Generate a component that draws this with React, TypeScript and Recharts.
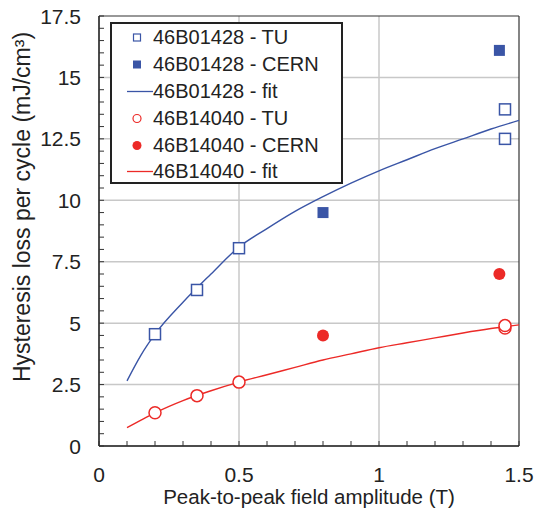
import { ComposedChart, XAxis, YAxis, CartesianGrid, Scatter, Line, ReferenceLine, Label } from "recharts";

const FONT = '"Liberation Sans", Arial, Helvetica, sans-serif';
const BLUE = "#3a55a6";
const RED = "#ec2a27";

// measured points
const tuFields = [0.2, 0.35, 0.5, 1.45, 1.45];
const blueTu = [4.55, 6.35, 8.05, 13.7, 12.5];
const redTu = [1.35, 2.05, 2.6, 4.8, 4.9];

const cernFields = [0.8, 1.43];
const blueCern = [9.5, 16.1];
const redCern = [4.5, 7.0];

// fit curves
const fitFields = [0.1, 0.15, 0.2, 0.3, 0.4, 0.5, 0.6, 0.7, 0.8, 0.9, 1.0, 1.1, 1.2, 1.3, 1.4, 1.5];
const blueFit = [2.65, 3.7, 4.55, 5.85, 7.0, 8.1, 8.85, 9.55, 10.15, 10.7, 11.2, 11.65, 12.1, 12.5, 12.9, 13.25];
const redFit = [0.75, 1.05, 1.35, 1.85, 2.25, 2.6, 2.9, 3.2, 3.5, 3.75, 4.0, 4.2, 4.4, 4.6, 4.78, 4.93];

const xTicks = [0, 0.1, 0.2, 0.3, 0.4, 0.5, 0.6, 0.7, 0.8, 0.9, 1, 1.1, 1.2, 1.3, 1.4, 1.5];
const xLabels = [0, 0.5, 1, 1.5];
const xGrid = [0.5, 1];
const yTicks = [0, 0.5, 1, 1.5, 2, 2.5, 3, 3.5, 4, 4.5, 5, 5.5, 6, 6.5, 7, 7.5, 8, 8.5, 9, 9.5, 10, 10.5, 11, 11.5, 12, 12.5, 13, 13.5, 14, 14.5, 15, 15.5, 16, 16.5, 17, 17.5];
const yLabels = [0, 2.5, 5, 7.5, 10, 12.5, 15, 17.5];
const yGrid = [2.5, 5, 7.5, 10, 12.5, 15];

const zip = (xs: number[], ys: number[]) => xs.map((x, i) => ({ x, y: ys[i] }));

const legendItems = [
  { name: "46B01428 - TU", color: BLUE, kind: "openSquare" },
  { name: "46B01428 - CERN", color: BLUE, kind: "square" },
  { name: "46B01428 - fit", color: BLUE, kind: "line" },
  { name: "46B14040 - TU", color: RED, kind: "openCircle" },
  { name: "46B14040 - CERN", color: RED, kind: "circle" },
  { name: "46B14040 - fit", color: RED, kind: "line" },
];

const X_MARGIN = 22;
const Y_MARGIN = 18;
const MINOR = 5;

// inward tick mark + label only on the major values
const XTick = (p: any) => {
  const v = p.payload.value;
  const axisY = p.y - X_MARGIN;
  return (
    <g>
      <line x1={p.x} x2={p.x} y1={axisY} y2={axisY - MINOR} stroke="#333" strokeWidth={1} />
      {xLabels.includes(v) && (
        <text x={p.x} y={p.y + 14} textAnchor="middle" fontFamily={FONT} fontSize={21} fill="#222">
          {String(v)}
        </text>
      )}
    </g>
  );
};

const YTick = (p: any) => {
  const v = p.payload.value;
  const axisX = p.x + Y_MARGIN;
  return (
    <g>
      <line x1={axisX} x2={axisX + MINOR} y1={p.y} y2={p.y} stroke="#333" strokeWidth={1} />
      {yLabels.includes(v) && (
        <text x={p.x} y={p.y} textAnchor="end" dominantBaseline="central" fontFamily={FONT} fontSize={21} fill="#222">
          {String(v)}
        </text>
      )}
    </g>
  );
};

const OpenSquare = (p: any) => (
  <rect x={p.cx - 5.5} y={p.cy - 5.5} width={11} height={11} fill="#fff" stroke={BLUE} strokeWidth={1.5} />
);
const FilledSquare = (p: any) => <rect x={p.cx - 5.5} y={p.cy - 5.5} width={11} height={11} fill={BLUE} />;
const OpenCircle = (p: any) => <circle cx={p.cx} cy={p.cy} r={6} fill="#fff" stroke={RED} strokeWidth={1.5} />;
const FilledCircle = (p: any) => <circle cx={p.cx} cy={p.cy} r={6} fill={RED} />;

function LegendIcon({ kind, color }: { kind: string; color: string }) {
  if (kind === "line") return <line x1={16} x2={42} y1={13.5} y2={13.5} stroke={color} strokeWidth={1.3} />;
  if (kind === "openSquare") return <rect x={22.5} y={10} width={7} height={7} fill="#fff" stroke={color} strokeWidth={1.2} />;
  if (kind === "square") return <rect x={22} y={9.5} width={8} height={8} fill={color} />;
  if (kind === "openCircle") return <circle cx={26} cy={13.5} r={4} fill="#fff" stroke={color} strokeWidth={1.2} />;
  return <circle cx={26} cy={13.5} r={4.5} fill={color} />;
}

function LegendBox() {
  return (
    <div
      style={{
        position: "absolute",
        left: 110,
        top: 22,
        zIndex: 5,
        width: 233,
        height: 162,
        boxSizing: "border-box",
        border: "2px solid #222",
        background: "#fff",
        fontFamily: FONT,
        fontSize: 20,
        color: "#222",
      }}
    >
      {legendItems.map((item) => (
        <div key={item.name} style={{ display: "flex", alignItems: "center", height: 26.9, marginLeft: -1 }}>
          <svg width={42} height={27} style={{ flex: "none" }}>
            <LegendIcon kind={item.kind} color={item.color} />
          </svg>
          <span style={{ whiteSpace: "nowrap" }}>{item.name}</span>
        </div>
      ))}
    </div>
  );
}

const XTitle = (p: any) => {
  const vb = p.viewBox;
  return (
    <text x={vb.x + vb.width / 2} y={vb.y + 58} textAnchor="middle" fontFamily={FONT} fontSize={20.5} fill="#222">
      Peak-to-peak field amplitude (T)
    </text>
  );
};

const YTitle = (p: any) => {
  const vb = p.viewBox;
  const cx = vb.x + 22;
  const cy = vb.y + vb.height / 2 - 24;
  return (
    <text
      x={cx}
      y={cy}
      transform={`rotate(-90 ${cx} ${cy})`}
      textAnchor="middle"
      dominantBaseline="central"
      fontFamily={FONT}
      fontSize={23}
      fill="#222"
    >
      Hysteresis loss per cycle (mJ/cm³)
    </text>
  );
};

export default function App() {
  return (
    <div style={{ position: "absolute", left: 0, top: 0, width: 535, height: 516, background: "#fff" }}>
      <ComposedChart width={535} height={516} margin={{ top: 16, right: 16, bottom: 0, left: 0 }}>
        <CartesianGrid
          stroke="#c8c8c8"
          strokeWidth={1.5}
          syncWithTicks={false}
          horizontalValues={yGrid}
          verticalValues={xGrid}
        />
        <XAxis
          type="number"
          dataKey="x"
          domain={[0, 1.5]}
          ticks={xTicks}
          interval={0}
          tickSize={0}
          tickMargin={X_MARGIN}
          tickLine={false}
          height={70}
          axisLine={{ stroke: "#111", strokeWidth: 1.5 }}
          tick={XTick}
        >
          <Label content={XTitle} />
        </XAxis>
        <YAxis
          type="number"
          domain={[0, 17.5]}
          ticks={yTicks}
          interval={0}
          tickSize={0}
          tickMargin={Y_MARGIN}
          tickLine={false}
          width={99}
          axisLine={{ stroke: "#111", strokeWidth: 1.5 }}
          tick={YTick}
        >
          <Label content={YTitle} />
        </YAxis>
        <ReferenceLine y={17.5} stroke="#333" strokeWidth={1.2} />
        <ReferenceLine x={1.5} stroke="#333" strokeWidth={1.2} />
        <Line data={zip(fitFields, blueFit)} dataKey="y" type="monotone" stroke={BLUE} strokeWidth={1.4} dot={false} isAnimationActive={false} />
        <Line data={zip(fitFields, redFit)} dataKey="y" type="monotone" stroke={RED} strokeWidth={1.4} dot={false} isAnimationActive={false} />
        <Scatter data={zip(tuFields, blueTu)} dataKey="y" shape={OpenSquare} isAnimationActive={false} />
        <Scatter data={zip(cernFields, blueCern)} dataKey="y" shape={FilledSquare} isAnimationActive={false} />
        <Scatter data={zip(tuFields, redTu)} dataKey="y" shape={OpenCircle} isAnimationActive={false} />
        <Scatter data={zip(cernFields, redCern)} dataKey="y" shape={FilledCircle} isAnimationActive={false} />
      </ComposedChart>
      <LegendBox />
    </div>
  );
}
